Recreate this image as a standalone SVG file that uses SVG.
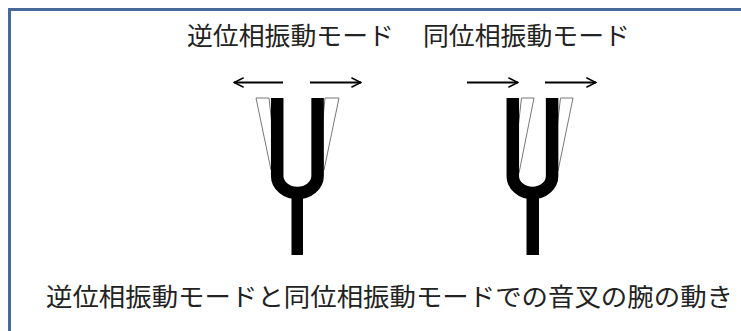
<svg xmlns="http://www.w3.org/2000/svg" width="741" height="331" viewBox="0 0 741 331">
  <defs>
    <style>
      .label { font-family: "Noto Sans CJK JP", "Noto Sans CJK SC", sans-serif; font-size: 25px; fill: #222; }
      .prong { fill: none; stroke: #000; stroke-width: 12.5; }
      .stem { fill: #000; }
      .ghost { fill: #fff; stroke: #777; stroke-width: 1; }
      .arrow { stroke: #000; stroke-width: 2; fill: none; marker-end: url(#head); }
    </style>
    <marker id="head" viewBox="0 0 10 10" refX="9" refY="5" markerWidth="6" markerHeight="6" orient="auto" markerUnits="strokeWidth">
      <path d="M1,1 L9,5 L1,9" fill="none" stroke="#000" stroke-width="1.3"/>
    </marker>
  </defs>

  <!-- frame -->
  <path d="M9.5,331 V9.5 H741" fill="none" stroke="#49699a" stroke-width="3"/>

  <g id="title-antiphase">
    <text class="label" x="187" y="45" textLength="207" lengthAdjust="spacingAndGlyphs">逆位相振動モード</text>
  </g>
  <g id="title-inphase">
    <text class="label" x="423" y="45" textLength="207" lengthAdjust="spacingAndGlyphs">同位相振動モード</text>
  </g>

  <!-- tuning fork, antiphase mode: both arms swing outward -->
  <g id="fork-antiphase">
    <polygon class="ghost" points="256,98 269,98 277,170 271,170"/>
    <polygon class="ghost" points="325,98 339,98 324,170 318,170"/>
    <rect class="stem" x="291.5" y="192" width="11.5" height="63"/>
    <path class="prong" d="M277.2,98 V176 A20.2,17 0 0 0 317.6,176 V98"/>
  </g>

  <!-- tuning fork, in-phase mode: both arms swing to the right -->
  <g id="fork-inphase">
    <polygon class="ghost" points="521.5,98 534,98 519,173 513,173"/>
    <polygon class="ghost" points="560.5,98 573,98 558,171 552,171"/>
    <rect class="stem" x="526.5" y="192" width="12.5" height="63"/>
    <path class="prong" d="M512.8,98 V176 A19.6,17 0 0 0 552.1,176 V98"/>
  </g>

  <g id="connectors">
    <line class="arrow" x1="283" y1="82.5" x2="234" y2="82.5"/>
    <line class="arrow" x1="310" y1="82.5" x2="361" y2="82.5"/>
    <line class="arrow" x1="467" y1="82.5" x2="518" y2="82.5"/>
    <line class="arrow" x1="545" y1="82.5" x2="596" y2="82.5"/>
  </g>

  <g id="caption">
    <text class="label" x="46" y="306" textLength="687" lengthAdjust="spacingAndGlyphs">逆位相振動モードと同位相振動モードでの音叉の腕の動き</text>
  </g>
</svg>
